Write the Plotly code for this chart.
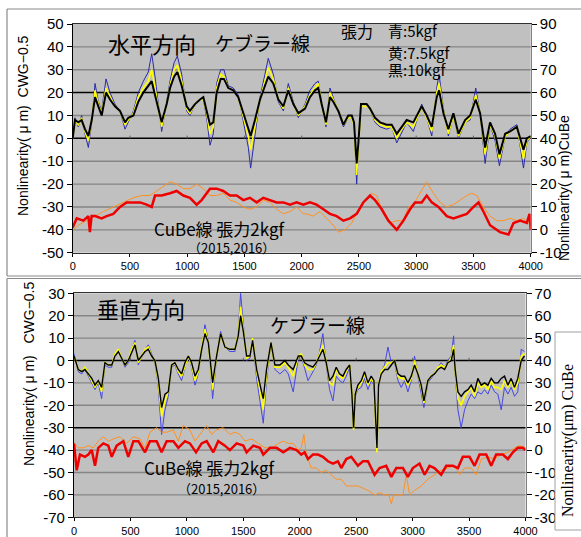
import plotly.graph_objects as go

# ---------------- DATA ----------------
# Top panel (horizontal direction), Kevlar wire, left axis
top_kev_x = [0, 20, 49, 78, 107, 137, 166, 195, 224, 253, 291, 326, 369, 413, 457, 486, 530, 573, 617, 660,
             690, 719, 748, 777, 821, 850, 885, 914, 952, 995, 1024, 1068, 1112, 1141, 1170, 1199, 1228, 1257, 1292, 1321,
             1359, 1403, 1446, 1490, 1534, 1554, 1592, 1636, 1679, 1708, 1752, 1796, 1840, 1883, 1927, 1971, 2029, 2072, 2116, 2145,
             2174, 2212, 2247, 2276, 2320, 2364, 2407, 2437, 2457, 2480, 2495, 2518, 2567, 2597, 2640, 2684, 2742, 2786, 2830, 2859,
             2917, 2975, 3048, 3092, 3136, 3179, 3200, 3238, 3281, 3325, 3369, 3427, 3471, 3520, 3558, 3602, 3645, 3689, 3727, 3777,
             3820, 3879, 3937, 3966, 4000]
top_black = [0, 8, 7, 8, 4, 1, 8, 18, 14, 10, 20, 17, 14, 12, 7, 9, 10, 16, 20, 23,
             25, 19, 13, 7, 15, 22, 27, 29, 23, 14, 12, 15, 17, 18, 12, 6, 7, 20, 26, 26,
             22, 21, 18, 11, 4, 1, 8, 17, 23, 27, 24, 17, 14, 21, 15, 11, 13, 18, 21, 22,
             15, 7, 18, 16, 12, 6, 10, 10, 7, -11, -2, 15, 15, 13, 9, 7, 6, 6, 2, 4,
             8, 7, 14, 10, 5, 18, 21, 11, 4, 11, 2, 8, 10, 17, 11, -4, 7, 2, -7, 2,
             3, 5, -5, 0, 1]
top_yellow = [0, 8, 6, 9, 3, -1, 8, 21, 15, 11, 22, 18, 14, 12, 6, 8, 11, 18, 22, 25,
              30, 22, 13, 5, 15, 23, 30, 32, 25, 13, 11, 15, 17, 17, 11, 2, 5, 22, 28, 27,
              22, 21, 18, 10, 1, -5, 5, 17, 25, 31, 26, 17, 13, 22, 15, 10, 14, 19, 22, 24,
              15, 6, 20, 17, 12, 6, 9, 9, 6, -16, -3, 14, 14, 13, 8, 6, 5, 5, 0, 3,
              7, 5, 14, 9, 3, 20, 24, 12, 2, 10, 1, 7, 9, 19, 11, -7, 6, 1, -9, 1,
              3, 5, -9, -1, 1]
top_blue = [0, 9, 5, 10, 2, -4, 7, 24, 16, 12, 26, 20, 15, 12, 4, 7, 12, 20, 25, 29,
            37, 27, 14, 3, 16, 25, 33, 36, 28, 12, 10, 15, 17, 17, 9, -3, 2, 24, 30, 30,
            23, 22, 19, 8, -4, -13, 2, 18, 28, 35, 28, 16, 12, 24, 16, 9, 15, 21, 24, 25,
            16, 5, 22, 18, 12, 5, 9, 9, 6, -20, -5, 14, 14, 13, 7, 5, 4, 5, -2, 1,
            7, 3, 15, 9, 1, 22, 28, 13, 1, 10, 0, 7, 8, 22, 11, -11, 6, -1, -12, 1,
            4, 6, -13, -2, 1]

# Top panel CuBe wire, right axis
top_red_x = [0, 35, 93, 137, 150, 165, 195, 253, 297, 355, 413, 471, 530, 588, 646, 690, 719, 777, 850, 908,
             966, 1024, 1083, 1126, 1199, 1257, 1315, 1374, 1432, 1490, 1548, 1607, 1665, 1723, 1781, 1840, 1898, 1956, 2014, 2072,
             2130, 2189, 2247, 2305, 2364, 2422, 2480, 2538, 2597, 2640, 2699, 2757, 2830, 2888, 2946, 2990, 3048, 3092, 3136, 3194,
             3267, 3325, 3383, 3442, 3500, 3544, 3587, 3645, 3732, 3806, 3850, 3908, 3966, 3990, 4000]
top_red = [1, 5, 4, 6, -1, 6, 6, 5, 6, 7, 10, 12, 12, 12, 11, 10, 15, 15, 16, 17,
           15, 14, 11, 13, 18, 18, 17, 15, 15, 13, 14, 12, 14, 13, 12, 12, 11, 12, 11, 12,
           11, 9, 7, 6, 4, 5, 7, 12, 15, 13, 9, 4, 0, 4, 9, 12, 12, 15, 12, 10,
           6, 5, 6, 7, 10, 12, 8, 2, -1, -2, 3, 4, 3, 7, 0]
top_orange_x = [0, 49, 122, 195, 268, 355, 442, 530, 603, 675, 733, 792, 850, 908, 966, 1024, 1083, 1141, 1199, 1257,
                1315, 1374, 1432, 1490, 1548, 1607, 1665, 1723, 1781, 1840, 1898, 1956, 2014, 2043, 2101, 2160, 2218, 2276, 2320, 2378,
                2437, 2495, 2553, 2611, 2655, 2713, 2771, 2830, 2888, 2932, 2975, 3019, 3063, 3092, 3150, 3209, 3267, 3325, 3383, 3442,
                3485, 3529, 3587, 3645, 3703, 3762, 3820, 3879, 3937, 4000]
top_orange = [0, 2, 4, 6, 8, 10, 12, 14, 15, 15, 17, 19, 21, 20, 18, 18, 20, 18, 15, 15,
              16, 13, 12, 10, 9, 10, 13, 12, 9, 7, 8, 10, 7, 7, 6, 8, 5, 2, -1, 0,
              3, 9, 13, 16, 15, 7, 3, 4, 4, 10, 11, 15, 19, 21, 16, 12, 10, 11, 13, 15,
              16, 15, 10, 6, 4, 4, 5, 4, 5, 2]

# Bottom panel (vertical direction), Kevlar wire, left axis
bot_kev_x = [0, 38, 68, 97, 127, 157, 186, 215, 245, 274, 304, 334, 363, 393, 422, 452, 481, 511, 540, 570,
             599, 629, 658, 688, 717, 747, 776, 806, 835, 865, 894, 924, 953, 983, 1013, 1042, 1072, 1101, 1131, 1160,
             1190, 1228, 1263, 1299, 1337, 1381, 1426, 1455, 1476, 1500, 1529, 1559, 1582, 1618, 1662, 1677, 1706, 1745, 1780, 1824,
             1869, 1898, 1942, 1987, 2014, 2043, 2073, 2117, 2146, 2176, 2205, 2235, 2264, 2294, 2323, 2353, 2383, 2412, 2442, 2462,
             2477, 2492, 2515, 2545, 2574, 2604, 2633, 2657, 2672, 2684, 2698, 2722, 2752, 2781, 2811, 2840, 2870, 2899, 2929, 2958,
             2988, 3017, 3047, 3076, 3100, 3135, 3165, 3194, 3224, 3253, 3283, 3312, 3342, 3363, 3377, 3401, 3430, 3460, 3490, 3519,
             3549, 3578, 3608, 3637, 3667, 3696, 3726, 3755, 3785, 3814, 3844, 3873, 3903, 3932, 3962, 3991]
bot_black = [2, -4, -5, -4, -6, -8, -11, -9, -12, -1, -2, -2, 2, 4, 1, -2, 0, 4, 7, 0,
             2, 4, 5, 2, 0, -8, -21, -15, -14, -2, -1, -4, -6, -1, 2, -1, -7, -4, 5, 12,
             8, -10, 2, 12, 6, 5, 5, 11, 20, 13, 2, 2, 9, -4, -14, -17, -4, 8, -2, -2,
             0, -2, -4, 2, 2, -1, -2, -3, -1, 2, 5, -1, -9, -7, -3, -6, -7, -4, -2, -15,
             -30, -15, -11, -9, -5, -10, -7, -9, -23, -39, -11, -6, -4, -4, -2, 0, -6, -7, -7, -10,
             -7, -2, -6, -11, -18, -9, -7, -6, -4, -3, -4, -1, 0, 5, -4, -14, -16, -14, -13, -11,
             -14, -8, -11, -10, -11, -8, -10, -10, -8, -7, -11, -8, -12, -8, 0, 2]
bot_yellow = [2, -4, -5, -3, -6, -9, -12, -9, -14, -1, -2, -2, 3, 5, 1, -2, 0, 5, 8, -1,
              2, 5, 6, 2, 0, -10, -25, -18, -14, -2, -1, -5, -7, -2, 2, -2, -9, -5, 6, 14,
              8, -13, 2, 12, 6, 5, 5, 12, 24, 14, 1, 2, 10, -5, -18, -22, -6, 8, -3, -3,
              -1, -3, -7, 2, 3, -2, -4, -4, -1, 3, 7, -1, -10, -11, -4, -7, -8, -5, -2, -15,
              -31, -15, -12, -10, -6, -11, -8, -10, -24, -41, -11, -5, -3, -1, -1, 0, -7, -8, -8, -11,
              -8, 0, -6, -12, -19, -9, -7, -6, -3, -2, -3, -1, 1, 7, -5, -17, -20, -16, -14, -12,
              -16, -10, -12, -11, -13, -9, -12, -12, -13, -9, -12, -9, -13, -10, 2, 3]
bot_blue = [3, -5, -6, -4, -7, -10, -13, -10, -17, -2, -3, -3, 3, 5, 1, -3, -1, 5, 9, -2,
            2, 5, 7, 3, -1, -12, -33, -22, -16, -3, -2, -6, -9, -3, 2, -3, -11, -6, 6, 16,
            9, -17, 1, 13, 6, 4, 4, 13, 30, 16, 0, 1, 10, -8, -22, -28, -9, 8, -4, -6,
            -4, -6, -14, 1, 2, -3, -9, -5, -2, 4, 12, -2, -13, -18, -7, -9, -10, -7, -3, -16,
            -31, -16, -13, -12, -8, -13, -9, -11, -25, -40, -12, -5, -2, 6, -1, -1, -9, -12, -9, -14,
            -9, 2, -7, -14, -21, -10, -8, -6, -3, -1, -3, 0, 2, 11, -6, -22, -30, -22, -18, -15,
            -17, -14, -15, -13, -15, -11, -14, -15, -22, -12, -15, -12, -16, -14, 5, 4]

# Bottom panel CuBe wire, right axis
bot_red_x = [0, 24, 53, 97, 127, 157, 186, 215, 260, 304, 334, 378, 437, 481, 526, 570, 629, 673, 732, 776,
             821, 880, 924, 983, 1027, 1081, 1131, 1175, 1234, 1278, 1337, 1381, 1441, 1500, 1529, 1588, 1647, 1677, 1736, 1795,
             1854, 1913, 1972, 2014, 2043, 2073, 2117, 2161, 2205, 2250, 2294, 2338, 2368, 2412, 2456, 2515, 2560, 2604, 2663, 2707,
             2766, 2811, 2855, 2914, 2958, 3002, 3061, 3106, 3150, 3194, 3253, 3298, 3357, 3401, 3445, 3504, 3549, 3593, 3652, 3696,
             3740, 3799, 3844, 3888, 3932, 3977, 4000]
bot_red = [3, -9, -2, -3, -2, 0, -7, 1, 3, 2, -3, 2, 4, -3, 4, 4, -1, 4, 4, -1,
           4, 4, 1, 4, 3, -1, 3, 4, -1, 4, 2, 0, 3, 2, -1, 2, 1, -2, 1, 1,
           -1, 1, 0, -2, -1, -4, -2, -2, -3, -5, -6, -5, -8, -4, -3, -7, -5, -5, -11, -8,
           -7, -12, -8, -8, -12, -8, -6, -11, -7, -8, -11, -7, -7, -8, -3, -3, -7, -2, -2, -7,
           -2, -2, -4, -1, 1, 1, 0]
bot_orange_x = [0, 38, 83, 127, 171, 215, 260, 304, 349, 408, 467, 526, 584, 629, 673, 732, 776, 821, 880, 924,
                968, 1027, 1072, 1131, 1175, 1219, 1263, 1322, 1381, 1426, 1470, 1515, 1574, 1632, 1692, 1751, 1810, 1854, 1898, 1942,
                1984, 2014, 2037, 2058, 2102, 2146, 2191, 2235, 2279, 2323, 2368, 2412, 2456, 2515, 2560, 2604, 2663, 2707, 2752, 2790,
                2811, 2830, 2870, 2914, 2944, 2973, 3017, 3076, 3135, 3194, 3253, 3312, 3371, 3416, 3460, 3519, 3563, 3608, 3667, 3726,
                3785, 3844, 3903, 3947, 4000]
bot_orange = [3, 1, 1, 2, 1, 4, 6, 4, 5, 6, 3, 6, 5, 1, 8, 10, 8, 8, 9, 4,
              11, 9, 4, 8, 11, 7, 9, 10, 7, 8, 7, 4, 5, 3, 1, 1, 3, 4, 3, 3,
              0, 1, 7, -2, -8, -8, -10, -9, -11, -13, -13, -16, -16, -16, -17, -18, -20, -19, -20, -20,
              -24, -20, -20, -20, -11, -20, -18, -16, -13, -11, -9, -8, -7, -11, -8, -8, -11, -4, -3, -4,
              -2, -1, 1, 2, 1]

# Axis ticks
x_ticks = [0, 500, 1000, 1500, 2000, 2500, 3000, 3500, 4000]
top_left_ticks = [-50, -40, -30, -20, -10, 0, 10, 20, 30, 40, 50]
top_right_ticks = [-10, 0, 10, 20, 30, 40, 50, 60, 70, 80, 90]
bot_left_ticks = [-70, -60, -50, -40, -30, -20, -10, 0, 10, 20, 30]
bot_right_ticks = [-30, -20, -10, 0, 10, 20, 30, 40, 50, 60, 70]
top_dark_lines = [0, 20]
bot_dark_lines = [0, -30]

# ---------------- FIGURE ----------------
W, H = 581, 537


def px(v):
    return v / W


def py(v):
    return 1 - v / H


fig = go.Figure()

BLUE_T, BLUE_B = "#2a2aa8", "#4646e6"
YEL = "#ffff00"
RED = "#ee0000"
ORG = "#ff9020"

fig.add_trace(go.Scatter(x=top_kev_x, y=top_blue, xaxis="x", yaxis="y", mode="lines",
                         line=dict(color=BLUE_T, width=1)))
fig.add_trace(go.Scatter(x=top_kev_x, y=top_yellow, xaxis="x", yaxis="y", mode="lines",
                         line=dict(color=YEL, width=1.6)))
fig.add_trace(go.Scatter(x=top_kev_x, y=top_black, xaxis="x", yaxis="y", mode="lines",
                         line=dict(color="#000000", width=2)))
fig.add_trace(go.Scatter(x=top_orange_x, y=top_orange, xaxis="x", yaxis="y2", mode="lines",
                         line=dict(color=ORG, width=1)))
fig.add_trace(go.Scatter(x=top_red_x, y=top_red, xaxis="x", yaxis="y2", mode="lines",
                         line=dict(color=RED, width=2.5)))

fig.add_trace(go.Scatter(x=bot_kev_x, y=bot_blue, xaxis="x2", yaxis="y3", mode="lines",
                         line=dict(color=BLUE_B, width=1)))
fig.add_trace(go.Scatter(x=bot_kev_x, y=bot_yellow, xaxis="x2", yaxis="y3", mode="lines",
                         line=dict(color=YEL, width=1.6)))
fig.add_trace(go.Scatter(x=bot_kev_x, y=bot_black, xaxis="x2", yaxis="y3", mode="lines",
                         line=dict(color="#000000", width=1.4)))
fig.add_trace(go.Scatter(x=bot_orange_x, y=bot_orange, xaxis="x2", yaxis="y4", mode="lines",
                         line=dict(color=ORG, width=1)))
fig.add_trace(go.Scatter(x=bot_red_x, y=bot_red, xaxis="x2", yaxis="y4", mode="lines",
                         line=dict(color=RED, width=2.5)))

TICKFONT_Y = dict(family="Liberation Sans, Arial, sans-serif", size=15, color="#000")
TICKFONT_X = dict(family="Liberation Sans, Arial, sans-serif", size=11, color="#000")
GRID = "#858585"


def xax(domain, anchor):
    return dict(domain=domain, anchor=anchor, range=[0, 4000], tickvals=x_ticks,
                ticktext=[str(t) for t in x_ticks], showgrid=False, zeroline=False,
                showline=True, linecolor="#303030", linewidth=1.2, mirror=True,
                ticks="outside", ticklen=3, tickcolor="#000", tickfont=TICKFONT_X,
                fixedrange=True)


def yleft(domain, anchor, rng, ticks):
    return dict(domain=domain, anchor=anchor, range=rng, tickvals=ticks,
                ticktext=[str(t) for t in ticks], showgrid=False, zeroline=False,
                showline=True, linecolor="#000", linewidth=1.2, ticks="outside",
                ticklen=5, tickcolor="#000", tickfont=TICKFONT_Y,
                fixedrange=True)


def yright(overlay, anchor, rng, ticks):
    return dict(overlaying=overlay, anchor=anchor, side="right", range=rng, tickvals=ticks,
                ticktext=[str(t) for t in ticks], showgrid=False, zeroline=False,
                showline=True, linecolor="#808080", linewidth=1.2, ticks="outside",
                ticklen=5, tickcolor="#000", tickfont=TICKFONT_Y,
                fixedrange=True)


top_xd = [px(72.7), px(530.7)]
top_yd = [py(252.7), py(24)]
bot_xd = [px(74), px(525.5)]
bot_yd = [py(517.3), py(293.3)]

shapes = []
# horizontal grid lines (drawn below the data)
for xr, yr, ticks, dark in (("x", "y", top_left_ticks, top_dark_lines),
                            ("x2", "y3", bot_left_ticks, bot_dark_lines)):
    for t in ticks[1:-1]:
        is_dark = t in dark
        shapes.append(dict(type="line", xref=xr + " domain", yref=yr, x0=0, x1=1, y0=t, y1=t,
                           line=dict(color="#000" if is_dark else GRID,
                                     width=1.5 if is_dark else 1.4), layer="below"))
    # small tick marks on the zero line
    for t in x_ticks[1:-1]:
        shapes.append(dict(type="line", xref=xr, yref=yr, x0=t, x1=t, y0=0, y1=1.2,
                           line=dict(color="#606060", width=1), layer="below"))
# outer frames
FR = dict(color="#8a8a8a", width=1.2)
shapes += [
    dict(type="line", xref="paper", yref="paper", x0=px(7), x1=1.02, y0=py(9), y1=py(9), line=FR),
    dict(type="line", xref="paper", yref="paper", x0=px(7), x1=px(7), y0=py(9), y1=py(276), line=FR),
    dict(type="line", xref="paper", yref="paper", x0=px(7), x1=1.02, y0=py(276), y1=py(276), line=FR),
    dict(type="line", xref="paper", yref="paper", x0=px(7), x1=1.02, y0=py(278.5), y1=py(278.5), line=FR),
    dict(type="line", xref="paper", yref="paper", x0=px(7), x1=px(7), y0=py(278.5), y1=-0.02, line=FR),
]
# white title box on bottom-right axis
shapes.append(dict(type="rect", xref="paper", yref="paper", x0=px(555), x1=px(582),
                   y0=py(530), y1=py(332), fillcolor="#ffffff",
                   line=dict(color="#a0a0a0", width=1), layer="above"))

JP = "Noto Sans CJK JP, sans-serif"
SANS = "Liberation Sans, Arial, sans-serif"


def ann(text, x, y, size, family=JP, xanchor="left", angle=0, color="#000"):
    return dict(text=text, x=px(x), y=py(y), xref="paper", yref="paper", showarrow=False,
                xanchor=xanchor, yanchor="middle", textangle=angle,
                font=dict(family=family, size=size, color=color))


annotations = [
    ann("水平方向", 106, 43, 22),
    ann("ケブラー線", 213, 43, 19),
    ann("張力", 339, 31, 16),
    ann("青:5kgf", 386, 31, 15),
    ann("黄:7.5kgf", 386, 52, 15),
    ann("黒:10kgf", 386, 70, 15),
    ann("CuBe線 張力2kgf", 152, 228, 17),
    ann("（2015,2016）", 186, 247, 13),
    ann("垂直方向", 95, 308, 22),
    ann("ケブラー線", 268, 324, 19),
    ann("CuBe線 張力2kgf", 142, 467, 17),
    ann("（2015,2016）", 176, 488, 13),
    ann("Nonlinearity( μ m)  CWG−0.5", 23, 126, 14, family=SANS, xanchor="center", angle=-90),
    ann("Nonlinearity( μ m)CuBe", 564, 188, 14, family=SANS, xanchor="center", angle=-90),
    ann("Nonlinearity( μ m)   CWG−0.5", 29, 374, 14, family=SANS, xanchor="center", angle=-90),
    ann("Nonlinearity(μm) CuBe", 568, 441, 16, family="Liberation Serif, Times New Roman, serif",
        xanchor="center", angle=-90),
]

fig.update_layout(
    width=W, height=H,
    margin=dict(l=0, r=0, t=0, b=0, autoexpand=False),
    paper_bgcolor="#ffffff",
    plot_bgcolor="#c0c0c0",
    showlegend=False,
    xaxis=xax(top_xd, "y"),
    yaxis=yleft(top_yd, "x", [-50, 50], top_left_ticks),
    yaxis2=yright("y", "x", [-10, 90], top_right_ticks),
    xaxis2=xax(bot_xd, "y3"),
    yaxis3=yleft(bot_yd, "x2", [-70, 30], bot_left_ticks),
    yaxis4=yright("y3", "x2", [-30, 70], bot_right_ticks),
    shapes=shapes,
    annotations=annotations,
)

fig.write_html("out.html", config={"displayModeBar": False},
               post_script="document.body.style.margin='0';document.body.style.padding='0';")
